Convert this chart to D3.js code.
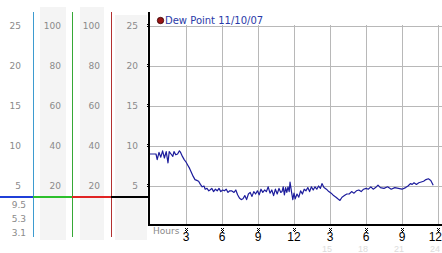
<!DOCTYPE html>
<html>
<head>
<meta charset="utf-8">
<script src="https://cdn.jsdelivr.net/npm/d3@7"></script>
<style>
  body { margin: 0; background: #fff; }
  svg { display: block; }
  text { font-family: "DejaVu Sans", Verdana, sans-serif; }
</style>
</head>
<body>
<div id="chart"></div>
<script>
// hours since start, dew point (deg)
const hours = [0, 0.25, 0.5, 0.6, 0.75, 0.9, 1.05, 1.2, 1.35, 1.5, 1.6, 1.75, 1.9, 2.0, 2.15, 2.3, 2.45, 2.55, 2.7, 2.85,
  3.0, 3.15, 3.3, 3.45, 3.6, 3.75, 3.9, 4.05, 4.2, 4.35, 4.5, 4.6, 4.75, 4.9, 5.0, 5.15, 5.3, 5.45, 5.6, 5.75, 5.9,
  6.05, 6.2, 6.35, 6.5, 6.65, 6.8, 7.0, 7.15, 7.3, 7.45, 7.6, 7.75, 7.9, 8.05, 8.2, 8.35, 8.5, 8.65, 8.8, 8.95,
  9.1, 9.25, 9.4, 9.55, 9.7, 9.85, 10.0, 10.15, 10.3, 10.45, 10.6, 10.75, 10.9, 11.0, 11.1, 11.2, 11.3, 11.4, 11.5,
  11.6, 11.67, 11.8, 11.9, 12.0, 12.1, 12.25, 12.4, 12.55, 12.7, 12.85, 13.0, 13.15, 13.3, 13.45, 13.6, 13.75, 13.9,
  14.05, 14.2, 14.33, 14.5, 14.7, 14.9, 15.1, 15.3, 15.5, 15.65, 15.83, 16.0, 16.2, 16.4, 16.6, 16.8, 17.0, 17.2,
  17.4, 17.6, 17.8, 18.0, 18.2, 18.4, 18.6, 18.8, 19.0, 19.2, 19.5, 19.8, 20.1, 20.4, 20.7, 21.0, 21.3, 21.5, 21.7,
  21.85, 22.0, 22.2, 22.4, 22.6, 22.8, 23.0, 23.2, 23.4, 23.6];
const dewPoint = [9.0, 9.0, 9.0, 8.3, 9.2, 8.6, 9.4, 8.5, 9.3, 7.9, 9.3, 9.0, 8.7, 9.3, 8.9, 9.0, 9.4, 9.2, 8.7, 8.3,
  8.0, 7.6, 7.2, 6.7, 6.2, 5.8, 5.7, 5.6, 5.2, 4.9, 5.0, 4.6, 4.7, 4.4, 4.5, 4.7, 4.3, 4.6, 4.4, 4.7, 4.3,
  4.5, 4.4, 4.6, 4.2, 4.4, 4.4, 4.2, 4.5, 3.9, 3.5, 3.3, 3.4, 3.8, 3.3, 4.0, 4.2, 3.7, 4.3, 4.0, 4.4,
  3.9, 4.6, 4.2, 4.5, 4.3, 4.9, 4.1, 4.5, 3.8, 4.6, 4.0, 4.7, 4.2, 4.3, 4.9, 3.9, 4.8, 4.2, 4.9,
  4.3, 5.5, 4.2, 3.3, 4.1, 3.4, 4.0, 3.6, 4.4, 4.0, 4.6, 4.4, 4.8, 4.3, 4.9, 4.5, 4.9, 4.6,
  5.0, 4.7, 5.3, 4.8, 4.6, 4.3, 4.1, 3.8, 3.6, 3.4, 3.2, 3.6, 3.8, 4.0, 4.0, 4.3, 4.1, 4.4,
  4.5, 4.3, 4.6, 4.7, 4.6, 4.9, 4.6, 4.8, 5.1, 4.8, 4.7, 4.9, 4.6, 4.8, 4.7, 4.6, 4.8, 5.0, 5.3,
  5.2, 5.4, 5.2, 5.4, 5.5, 5.6, 5.8, 5.9, 5.7, 5.1];

const legendLabel = "Dew Point 11/10/07";
const tempTicks = [25, 20, 15, 10, 5];
const humidTicks = [100, 80, 60, 40, 20];
const hourTicks = [3, 6, 9, 12, 15, 18, 21, 24];
const hourLabels = ["3", "6", "9", "12", "3", "6", "9", "12"];
const fadedTicks = [15, 18, 21, 24];
const currentValues = ["9.5", "5.3", "3.1"];
const markerValue = 3.6;

const W = 442, H = 253;
const svg = d3.select("#chart").append("svg").attr("width", W).attr("height", H);

const x = d3.scaleLinear().domain([0, 24]).range([150, 438]);
const y = d3.scaleLinear().domain([0, 25]).range([226, 26]);
const yHum = d3.scaleLinear().domain([0, 100]).range([226, 26]);

// left panel: gray bands
const bands = [[40, 66, 7], [80, 104, 7], [115, 147, 15]];
bands.forEach(b => {
  svg.append("rect").attr("x", b[0]).attr("y", b[2]).attr("width", b[1] - b[0]).attr("height", 240 - b[2])
    .attr("fill", "#f4f4f4");
});

// left panel labels
const grey = "#8a8a8a";
function colLabels(vals, scale, xr) {
  svg.append("g").selectAll("text").data(vals).enter().append("text")
    .attr("x", xr).attr("y", d => scale(d)).attr("dy", "0.35em")
    .attr("text-anchor", "end").attr("font-size", "9px").attr("fill", grey)
    .text(d => d);
}
colLabels(tempTicks, y, 21);
colLabels(humidTicks, yHum, 61);
colLabels(humidTicks, yHum, 100);
colLabels(tempTicks, y, 138);

svg.append("g").selectAll("text").data(currentValues).enter().append("text")
  .attr("x", 26).attr("y", (d, i) => 205 + i * 14).attr("dy", "0.35em")
  .attr("text-anchor", "end").attr("font-size", "9px").attr("fill", grey)
  .text(d => d);

// vertical colored lines
const verticals = [[33, "#3d9bd0"], [72, "#36a836"], [111, "#b23030"]];
verticals.forEach(v => {
  svg.append("line").attr("x1", v[0] + 0.5).attr("x2", v[0] + 0.5).attr("y1", 12).attr("y2", 237)
    .attr("stroke", v[1]).attr("stroke-width", 1);
});

// horizontal marker segments
const my = Math.round(y(markerValue));
const segs = [[0, 33, "#1f3fd8"], [33, 72, "#2cbf2c"], [72, 111, "#e02424"], [111, 149, "#000"]];
segs.forEach(s => {
  svg.append("line").attr("x1", s[0]).attr("x2", s[1]).attr("y1", my).attr("y2", my)
    .attr("stroke", s[2]).attr("stroke-width", 2);
});

// gridlines
const grid = svg.append("g").attr("stroke", "#b8b8b8").attr("stroke-width", 1);
tempTicks.forEach(t => {
  const yy = Math.round(y(t)) + 0.5;
  grid.append("line").attr("x1", 149).attr("x2", W).attr("y1", yy).attr("y2", yy);
});
hourTicks.forEach(h => {
  const xx = Math.round(x(h)) + 0.5;
  grid.append("line").attr("x1", xx).attr("x2", xx).attr("y1", 25).attr("y2", 225);
});

// axes
svg.append("line").attr("x1", 149).attr("x2", 149).attr("y1", 12).attr("y2", 226)
  .attr("stroke", "#000").attr("stroke-width", 2);
svg.append("line").attr("x1", 148).attr("x2", W).attr("y1", 225).attr("y2", 225)
  .attr("stroke", "#000").attr("stroke-width", 2);

// tick glyphs (small checker marks)
const checker = [[0, 0], [2, 0], [1, 1], [0, 2], [2, 2], [1, 3]];
function glyph(gx, gy) {
  checker.forEach(p => {
    svg.append("rect").attr("x", gx + p[0]).attr("y", gy + p[1]).attr("width", 1).attr("height", 1)
      .attr("fill", "#000");
  });
}
tempTicks.forEach(t => glyph(147, Math.round(y(t)) - 2));
hourTicks.forEach(h => glyph(Math.round(x(h)) - 1, 228));

// bottom labels
svg.append("text").attr("x", 153).attr("y", 234).attr("font-size", "9px").attr("fill", grey).text("Hours");
svg.append("g").selectAll("text").data(hourTicks).enter().append("text")
  .attr("x", d => x(d)).attr("y", 241)
  .attr("text-anchor", (d, i) => i === hourTicks.length - 1 ? "end" : "middle")
  .attr("dx", (d, i) => i === hourTicks.length - 1 ? 4 : 0)
  .attr("font-size", "12px").attr("fill", "#000")
  .style("font-family", "'Liberation Sans Narrow', 'Liberation Sans', sans-serif")
  .text((d, i) => hourLabels[i]);
svg.append("g").selectAll("text").data(fadedTicks).enter().append("text")
  .attr("x", d => x(d) - 3).attr("y", 252)
  .attr("text-anchor", "middle").attr("font-size", "9px").attr("fill", "#dcdcdc")
  .style("font-family", "'Liberation Sans Narrow', 'Liberation Sans', sans-serif")
  .text(d => d);

// data line
const line = d3.line().x(d => x(d[0])).y(d => y(d[1]));
svg.append("path").datum(hours.map((h, i) => [h, dewPoint[i]]))
  .attr("d", line).attr("fill", "none").attr("stroke", "#1c1c9c").attr("stroke-width", 1.2)
  .attr("stroke-linejoin", "round");

// legend
svg.append("circle").attr("cx", 160.5).attr("cy", 20.5).attr("r", 3.2)
  .attr("fill", "#9a1414").attr("stroke", "#300").attr("stroke-width", 0.8);
svg.append("text").attr("x", 165).attr("y", 24).attr("font-size", "10px").attr("fill", "#2a3aa8")
  .text(legendLabel);
</script>
</body>
</html>
